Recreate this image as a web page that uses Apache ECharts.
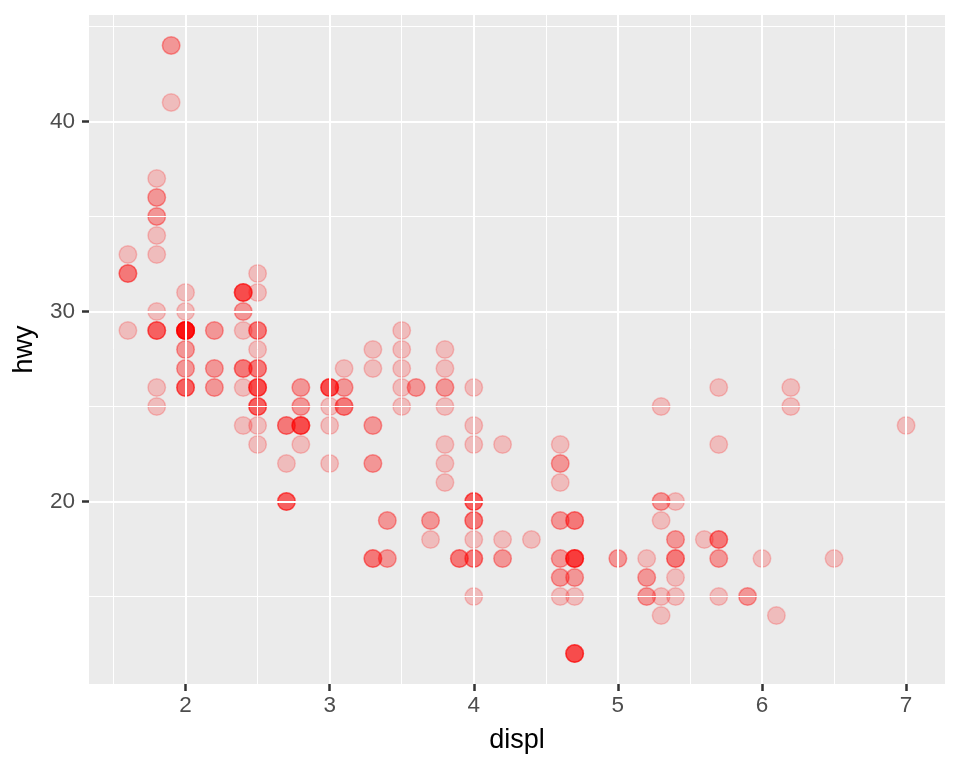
<!DOCTYPE html>
<html>
<head>
<meta charset="utf-8">
<script src="https://cdn.jsdelivr.net/npm/echarts@6/dist/echarts.min.js"></script>
<style>html,body{margin:0;padding:0;background:#fff}#c{width:960px;height:768px}</style>
</head>
<body>
<div id="c"></div>
<script>
// mpg: displ vs hwy
const displ = [
 1.8,1.8,2.0,2.0,2.8,2.8,3.1,1.8,1.8,2.0,2.0,2.8,2.8,3.1,3.1,2.8,3.1,4.2,
 5.3,5.3,5.3,5.7,6.0,5.7,5.7,6.2,6.2,7.0,5.3,5.3,5.7,6.5,2.4,2.4,3.1,3.5,3.6,
 2.4,3.0,3.3,3.3,3.3,3.3,3.3,3.8,3.8,3.8,4.0,
 3.7,3.7,3.9,3.9,4.7,4.7,4.7,5.2,5.2,
 3.9,4.7,4.7,4.7,5.2,5.7,5.9,
 4.7,4.7,4.7,4.7,4.7,4.7,5.2,5.2,5.7,5.9,
 4.6,5.4,5.4,
 4.0,4.0,4.0,4.0,4.6,5.0,
 4.2,4.2,4.6,4.6,4.6,5.4,5.4,
 3.8,3.8,4.0,4.0,4.6,4.6,4.6,4.6,5.4,
 1.6,1.6,1.6,1.6,1.6,1.8,1.8,1.8,2.0,
 2.4,2.4,2.4,2.4,2.5,2.5,3.3,2.0,2.0,2.0,2.0,2.7,2.7,2.7,
 3.0,3.7,4.0,4.7,4.7,4.7,5.7,6.1,
 4.0,4.2,4.4,4.6,
 5.4,5.4,5.4,
 4.0,4.0,4.6,5.0,
 2.4,2.4,2.5,2.5,3.5,3.5,3.0,3.0,3.5,3.3,3.3,4.0,5.6,
 3.1,3.8,3.8,3.8,5.3,
 2.5,2.5,2.5,2.5,2.5,2.5,2.2,2.2,2.5,2.5,2.5,2.5,2.5,2.5,
 2.7,2.7,3.4,3.4,4.0,4.7,2.2,2.2,2.4,2.4,3.0,3.0,3.5,2.2,2.2,2.4,2.4,3.0,3.0,3.3,
 1.8,1.8,1.8,1.8,1.8,4.7,5.7,2.7,2.7,2.7,3.4,3.4,4.0,4.0,
 2.0,2.0,2.0,2.0,2.8,1.9,2.0,2.0,2.0,2.0,2.5,2.5,2.8,2.8,
 1.9,1.9,2.0,2.0,2.5,2.5,1.8,1.8,2.0,2.0,2.8,2.8,3.6
];
const hwy = [
 29,29,31,30,26,26,27,26,25,28,27,25,25,25,25,24,25,23,
 20,15,20,17,17,26,23,26,25,24,19,14,15,17,27,30,26,29,26,
 24,24,22,22,24,24,17,22,21,23,23,
 19,18,17,17,19,19,12,17,15,
 17,17,12,17,16,18,15,
 16,12,17,17,16,12,15,16,17,15,
 17,17,18,
 17,19,17,19,19,17,
 17,17,16,16,17,15,17,
 26,25,26,24,21,22,23,22,20,
 33,32,32,29,32,34,36,36,29,
 26,27,30,31,26,26,28,26,29,28,27,24,24,24,
 22,19,20,17,12,19,18,14,
 15,18,18,15,
 17,16,18,
 17,19,19,17,
 29,27,31,32,27,26,26,25,25,17,17,20,18,
 26,26,27,28,25,
 25,24,27,25,26,23,26,26,26,26,25,27,25,27,
 20,20,19,17,20,17,29,27,31,31,26,26,28,27,29,31,31,26,26,27,
 30,33,35,37,35,15,18,20,20,22,17,19,18,20,
 29,26,29,29,24,44,29,26,29,29,29,29,23,24,
 44,41,29,26,28,29,29,29,29,29,24,24,26
];
const xTicks = [2, 3, 4, 5, 6, 7];
const xMinor = [1.5, 2.5, 3.5, 4.5, 5.5, 6.5];
const yTicks = [20, 30, 40];
const yMinor = [15, 25, 35, 45];
const xRange = [1.33, 7.27];
const yRange = [10.4, 45.6];

const points = displ.map((d, i) => [d, hwy[i]]);
const gridLines = [];
xMinor.forEach(v => gridLines.push({xAxis: v, lineStyle: {width: 1}}));
yMinor.forEach(v => gridLines.push({yAxis: v, lineStyle: {width: 1}}));
xTicks.forEach(v => gridLines.push({xAxis: v, lineStyle: {width: 2}}));
yTicks.forEach(v => gridLines.push({yAxis: v, lineStyle: {width: 2}}));

const chart = echarts.init(document.getElementById('c'), null, {renderer: 'canvas'});
const FONT = '"Liberation Sans", Arial, Helvetica, sans-serif';
chart.setOption({
  animation: false,
  backgroundColor: '#ffffff',
  grid: {left: 89, right: 15, top: 15, bottom: 84, show: true, backgroundColor: '#EBEBEB', borderWidth: 0, containLabel: false},
  xAxis: {
    type: 'value', min: xRange[0], max: xRange[1],
    name: 'displ', nameLocation: 'middle', nameGap: 43,
    nameTextStyle: {fontFamily: FONT, fontSize: 27, color: '#000'},
    axisLine: {show: false},
    axisTick: {show: true, length: 7, customValues: xTicks, lineStyle: {color: '#333333', width: 2.5}},
    axisLabel: {customValues: xTicks, margin: 10, fontFamily: FONT, fontSize: 22.5, color: '#4D4D4D'},
    splitLine: {show: false}
  },
  yAxis: {
    type: 'value', min: yRange[0], max: yRange[1],
    name: 'hwy', nameLocation: 'middle', nameGap: 51, nameRotate: 90,
    nameTextStyle: {fontFamily: FONT, fontSize: 27, color: '#000'},
    axisLine: {show: false},
    axisTick: {show: true, length: 7, customValues: yTicks, lineStyle: {color: '#333333', width: 2.5}},
    axisLabel: {customValues: yTicks, margin: 14, fontFamily: FONT, fontSize: 22.5, color: '#4D4D4D'},
    splitLine: {show: false}
  },
  series: [
    {
      type: 'scatter', data: [], silent: true, z: 1,
      markLine: {silent: true, symbol: 'none', label: {show: false}, animation: false,
        lineStyle: {color: '#ffffff', type: 'solid'}, emphasis: {disabled: true}, data: gridLines}
    },
    {
      type: 'scatter', data: points, z: 2,
      symbol: 'circle', symbolSize: 17.5,
      itemStyle: {color: 'rgba(255,0,0,0.2)', borderColor: 'rgba(255,0,0,0.2)', borderWidth: 1.5, opacity: 1},
      emphasis: {disabled: true}
    }
  ]
});
</script>
</body>
</html>
